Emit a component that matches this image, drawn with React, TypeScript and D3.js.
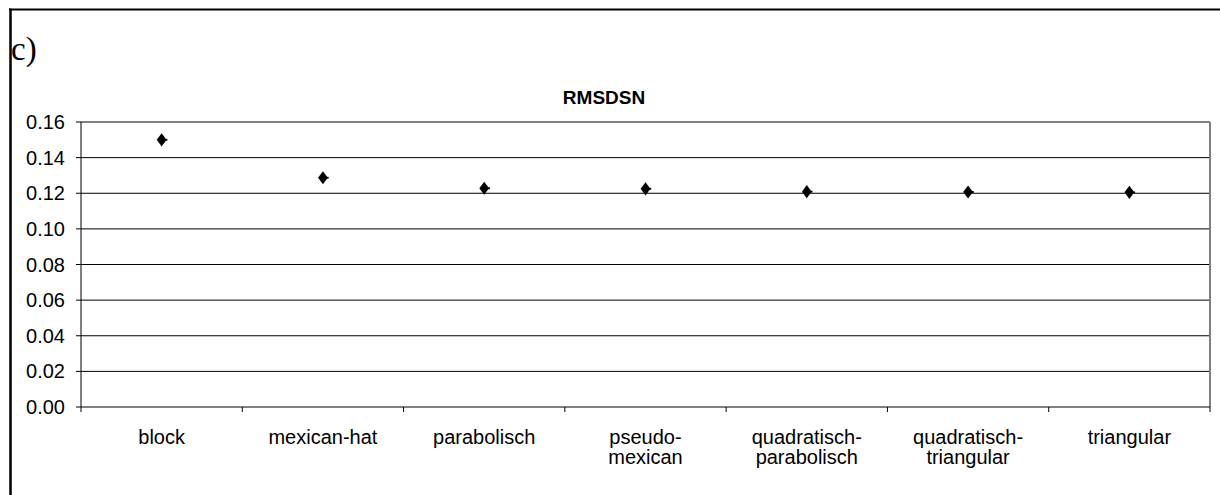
import React from "react";
import * as d3 from "d3";

const categories: string[][] = [
  ["block"],
  ["mexican-hat"],
  ["parabolisch"],
  ["pseudo-", "mexican"],
  ["quadratisch-", "parabolisch"],
  ["quadratisch-", "triangular"],
  ["triangular"],
];
const values: number[] = [0.150, 0.1287, 0.1228, 0.1225, 0.1209, 0.1207, 0.1205];
const yTicks: number[] = [0, 0.02, 0.04, 0.06, 0.08, 0.1, 0.12, 0.14, 0.16];
const title = "RMSDSN";
const panelLabel = "c)";

export default function App() {
  const W = 1220, H = 495;
  const left = 81, right = 1210, top = 122, bottom = 407;
  const keys = categories.map((_, i) => String(i));
  const x = d3.scaleBand<string>().domain(keys).range([left, right]);
  const y = d3.scaleLinear().domain([0, 0.16]).range([bottom, top]);
  const font = "Arial, 'Liberation Sans', sans-serif";
  const diamond = d3.symbol().type(d3.symbolDiamond).size(62)() as string;
  const boundaries = d3.range(categories.length + 1).map((i) => left + i * x.bandwidth());

  return (
    <svg width={W} height={H} style={{ position: "absolute", left: 0, top: 0, background: "#fff" }}>
      <rect x={0} y={0} width={W} height={H} fill="#fff" />
      {/* outer frame */}
      <line x1={10.5} y1={8.5} x2={10.5} y2={H} stroke="#000" strokeWidth={2.5} />
      <line x1={9} y1={9.5} x2={W} y2={9.5} stroke="#000" strokeWidth={2} />
      <text x={11} y={60} fontFamily="'Liberation Serif', 'DejaVu Serif', serif" fontSize={33} fill="#000">
        {panelLabel}
      </text>
      <text x={604} y={104} textAnchor="middle" fontFamily={font} fontSize={19} fontWeight="bold" fill="#000">
        {title}
      </text>
      {/* gridlines */}
      {yTicks.slice(1, -1).map((t) => (
        <line key={t} x1={left} x2={right} y1={y(t)} y2={y(t)} stroke="#000" strokeWidth={1} />
      ))}
      {/* plot border top/right */}
      <line x1={left} x2={right} y1={y(0.16)} y2={y(0.16)} stroke="#808080" strokeWidth={2} />
      <line x1={right} x2={right} y1={top} y2={bottom} stroke="#808080" strokeWidth={2} />
      {/* axes */}
      <line x1={left} x2={left} y1={top} y2={bottom} stroke="#000" strokeWidth={1} />
      <line x1={left} x2={right} y1={bottom} y2={bottom} stroke="#000" strokeWidth={1} />
      {yTicks.map((t) => (
        <g key={"yt" + t}>
          <line x1={left - 5} x2={left} y1={y(t)} y2={y(t)} stroke="#000" />
          <text x={65} y={y(t)} dy="0.35em" textAnchor="end" fontFamily={font} fontSize={20} fill="#000">
            {d3.format(".2f")(t)}
          </text>
        </g>
      ))}
      {boundaries.map((b, i) => (
        <line key={"xt" + i} x1={b} x2={b} y1={bottom} y2={bottom + 5} stroke="#000" />
      ))}
      {categories.map((lines, i) => (
        <text key={"xl" + i} textAnchor="middle" fontFamily={font} fontSize={20} fill="#000">
          {lines.map((l, j) => (
            <tspan key={j} x={(x(String(i)) as number) + x.bandwidth() / 2} y={444 + j * 20}>
              {l}
            </tspan>
          ))}
        </text>
      ))}
      {/* points */}
      {values.map((v, i) => (
        <g key={"p" + i} transform={`translate(${(x(String(i)) as number) + x.bandwidth() / 2},${y(v)}) scale(1.15,0.9)`}>
          <path d={diamond} fill="#000" />
          <line x1={0} x2={5} y1={0} y2={0} stroke="#000" strokeWidth={2} />
        </g>
      ))}
    </svg>
  );
}
